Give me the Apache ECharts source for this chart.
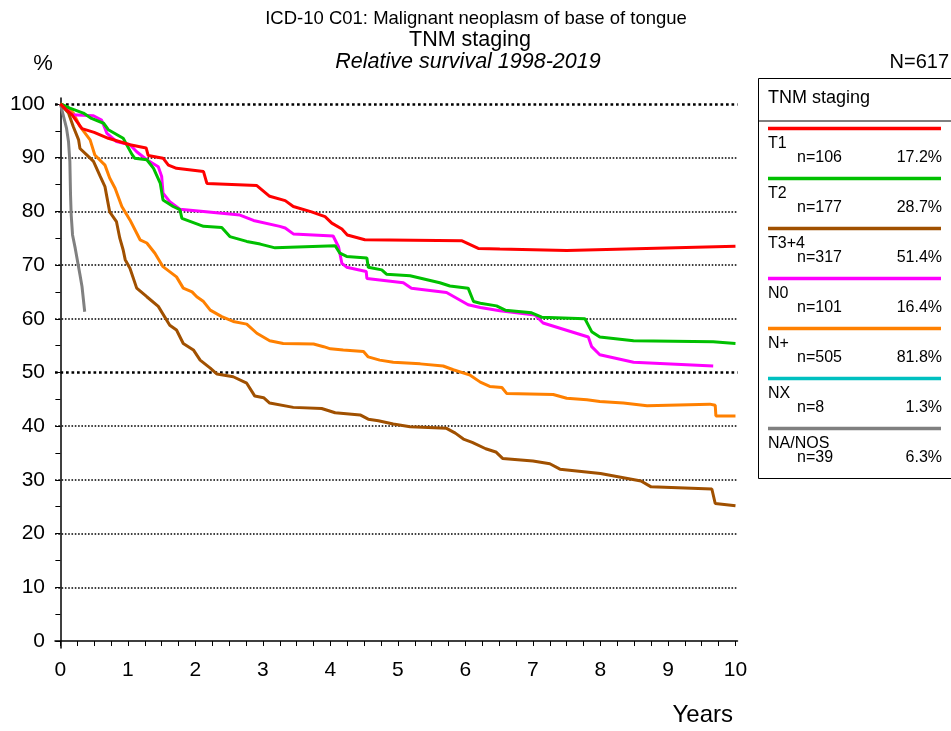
<!DOCTYPE html>
<html>
<head>
<meta charset="utf-8">
<script src="https://cdn.jsdelivr.net/npm/echarts@6/dist/echarts.min.js"></script>
<style>
html,body{margin:0;padding:0;background:#fff;}
#chart{width:951px;height:731px;}
</style>
</head>
<body>
<div id="chart"></div>
<script>
// ---- data (years, relative survival %) ----
const t1Data = [[0,100],[0.08,99.0],[0.17,98.0],[0.25,96.6],[0.32,95.4],[0.5,94.7],[0.71,93.6],[1.03,92.4],[1.27,91.8],[1.30,90.4],[1.52,89.9],[1.6,88.6],[1.72,88.0],[2.12,87.4],[2.17,85.2],[2.91,84.8],[3.1,82.8],[3.33,82.0],[3.45,80.9],[3.72,79.9],[3.92,79.0],[4.02,77.8],[4.17,76.7],[4.25,75.6],[4.51,74.7],[5.95,74.5],[6.19,73.1],[6.51,73.0],[7.5,72.7],[10,73.5]];
const t2Data = [[0,100],[0.14,99.2],[0.34,98.3],[0.46,97.3],[0.64,96.4],[0.71,95.2],[0.93,93.6],[1.06,90.6],[1.1,89.9],[1.28,89.6],[1.38,88.0],[1.48,85.2],[1.52,82.1],[1.67,80.9],[1.77,80.3],[1.8,78.7],[2.12,77.2],[2.39,77.0],[2.51,75.3],[2.76,74.4],[2.96,73.9],[3.18,73.2],[4.07,73.6],[4.14,72.2],[4.24,71.6],[4.54,71.3],[4.56,69.6],[4.76,69.1],[4.83,68.3],[5.18,68.0],[5.62,66.7],[5.77,66.1],[6.04,65.7],[6.12,63.2],[6.22,62.9],[6.46,62.4],[6.59,61.6],[6.98,61.1],[7.13,60.3],[7.77,60.0],[7.87,57.6],[7.99,56.6],[8.49,55.9],[9.67,55.7],[10,55.4]];
const t34Data = [[0,100],[0.12,98.3],[0.19,95.8],[0.27,93.3],[0.29,91.7],[0.39,90.5],[0.49,89.3],[0.59,86.5],[0.66,84.6],[0.73,79.9],[0.83,78.1],[0.88,75.0],[0.93,72.8],[0.96,71.0],[1.03,69.4],[1.13,65.7],[1.28,64.1],[1.45,62.3],[1.62,58.8],[1.72,57.9],[1.82,55.4],[1.97,54.2],[2.07,52.3],[2.22,50.8],[2.32,49.7],[2.56,49.2],[2.76,48.0],[2.88,45.6],[3.01,45.3],[3.1,44.3],[3.45,43.5],[3.87,43.3],[4.07,42.5],[4.44,42.1],[4.56,41.3],[4.71,41.0],[4.93,40.4],[5.18,39.9],[5.72,39.6],[5.85,38.7],[5.97,37.6],[6.1,37.0],[6.3,35.8],[6.45,35.2],[6.55,34.0],[7.0,33.5],[7.25,33.0],[7.4,32.0],[8.0,31.2],[8.3,30.5],[8.6,29.8],[8.75,28.7],[9.65,28.3],[9.7,25.6],[10,25.2]];
const n0Data = [[0,100],[0.17,98.0],[0.49,97.8],[0.61,97.0],[0.69,94.5],[0.83,93.0],[1.03,92.4],[1.13,91.1],[1.28,89.6],[1.45,88.3],[1.5,86.5],[1.52,83.4],[1.62,81.8],[1.77,80.4],[2.66,79.3],[2.86,78.3],[3.25,77.2],[3.33,76.9],[3.45,75.8],[4.04,75.4],[4.12,73.4],[4.17,70.3],[4.24,69.6],[4.53,68.8],[4.54,67.5],[5.08,66.7],[5.2,65.7],[5.72,64.9],[6.04,62.6],[6.22,62.1],[6.51,61.5],[7.03,60.7],[7.15,59.2],[7.82,56.6],[7.87,54.8],[7.99,53.3],[8.49,51.9],[9.67,51.2]];
const nPlusData = [[0,100],[0.1,99.4],[0.19,98.3],[0.29,95.8],[0.44,93.3],[0.51,90.5],[0.66,88.6],[0.73,86.2],[0.81,84.3],[0.91,80.9],[1.03,78.4],[1.18,74.7],[1.28,74.1],[1.4,72.2],[1.52,69.7],[1.72,67.8],[1.82,65.7],[1.95,65.0],[2.02,64.1],[2.12,63.2],[2.22,61.6],[2.39,60.4],[2.56,59.5],[2.76,59.0],[2.91,57.3],[3.1,55.9],[3.3,55.4],[3.75,55.3],[3.9,54.8],[4.0,54.4],[4.19,54.2],[4.49,53.9],[4.56,52.9],[4.73,52.3],[4.93,51.9],[5.33,51.6],[5.67,51.2],[5.82,50.5],[6.07,49.5],[6.22,48.2],[6.36,47.4],[6.54,47.2],[6.61,46.1],[7.3,45.9],[7.5,45.2],[7.8,44.9],[7.99,44.6],[8.34,44.3],[8.69,43.8],[9.62,44.1],[9.7,43.9],[9.71,41.9],[10,41.9]];
const nxData = [];
const naData = [[0,100],[0.04,98.0],[0.09,95.5],[0.12,93.0],[0.14,89.3],[0.15,83.1],[0.16,79.3],[0.18,75.6],[0.22,73.1],[0.29,68.2],[0.32,66.0],[0.36,61.3]];

const groupNames = ['T1','T2','T3+4','N0','N+','NX','NA/NOS'];
const groupN = ['n=106','n=177','n=317','n=101','n=505','n=8','n=39'];
const groupPct = ['17.2%','28.7%','51.4%','16.4%','81.8%','1.3%','6.3%'];
const groupData = [t1Data,t2Data,t34Data,n0Data,nPlusData,nxData,naData];
const groupColors = ['#ff0000','#00c000','#a05000','#ff00ff','#ff8000','#00c0c0','#808080'];

const xLabelValues = [0,1,2,3,4,5,6,7,8,9,10];
const xTickValues = [];
for (let i = 0; i <= 40; i++) xTickValues.push(i * 0.25);
const yLabelValues = [0,10,20,30,40,50,60,70,80,90,100];
const yTickValues = [];
for (let i = 0; i <= 20; i++) yTickValues.push(i * 5);
const gridValues = [10,20,30,40,50,60,70,80,90,100];
const boldGridValues = [50,100];

const FONT = '"Liberation Sans", Arial, sans-serif';

const series = groupData.map((d, i) => ({
  name: groupNames[i],
  type: 'line',
  data: d,
  showSymbol: false,
  symbol: 'none',
  lineStyle: {color: groupColors[i], width: 3},
  itemStyle: {color: groupColors[i]},
  z: 10 - i + 3,
  animation: false
}));
series.push({
  type: 'line', data: [], silent: true, animation: false,
  markLine: {
    silent: true, symbol: 'none', animation: false,
    label: {show: false},
    data: gridValues.map(v => {
      const bold = boldGridValues.indexOf(v) >= 0;
      return {yAxis: v, lineStyle: {color: '#000', width: bold ? 2.5 : 1.5, type: bold ? [2.7, 2.8] : [1.6, 1.7]}};
    })
  },
  z: 1
});

// legend graphics
const graphics = [];
graphics.push({type:'rect', shape:{x:758.5, y:78.5, width:220, height:400}, style:{fill:'#fff', stroke:'#000', lineWidth:1}, z:0});
graphics.push({type:'text', x:768, y:98, style:{text:'TNM staging', font:'18px ' + FONT, fill:'#000', verticalAlign:'middle'}});
graphics.push({type:'line', shape:{x1:758, y1:121, x2:960, y2:121}, style:{stroke:'#000', lineWidth:1}});
groupNames.forEach((nm, i) => {
  const y0 = 128.5 + 50 * i;
  graphics.push({type:'line', shape:{x1:768, y1:y0, x2:941, y2:y0}, style:{stroke:groupColors[i], lineWidth:3.5}});
  graphics.push({type:'text', x:768, y:y0 + 15.5, style:{text:nm, font:'16px ' + FONT, fill:'#000', verticalAlign:'middle'}});
  graphics.push({type:'text', x:797, y:y0 + 29.5, style:{text:groupN[i], font:'16px ' + FONT, fill:'#000', verticalAlign:'middle'}});
  graphics.push({type:'text', x:942, y:y0 + 29.5, style:{text:groupPct[i], font:'16px ' + FONT, fill:'#000', align:'right', verticalAlign:'middle'}});
});
graphics.push({type:'text', x:476, y:19, style:{text:'ICD-10 C01: Malignant neoplasm of base of tongue', font:'18.5px ' + FONT, fill:'#000', align:'center', verticalAlign:'middle'}});
graphics.push({type:'text', x:470, y:40, style:{text:'TNM staging', font:'21.5px ' + FONT, fill:'#000', align:'center', verticalAlign:'middle'}});
graphics.push({type:'text', x:468, y:62, style:{text:'Relative survival 1998-2019', font:'italic 21.5px ' + FONT, fill:'#000', align:'center', verticalAlign:'middle'}});
graphics.push({type:'text', x:43, y:64, style:{text:'%', font:'22px ' + FONT, fill:'#000', align:'center', verticalAlign:'middle'}});
graphics.push({type:'text', x:949, y:62, style:{text:'N=617', font:'20px ' + FONT, fill:'#000', align:'right', verticalAlign:'middle'}});
graphics.push({type:'text', x:733, y:715, style:{text:'Years', font:'24px ' + FONT, fill:'#000', align:'right', verticalAlign:'middle'}});

const chart = echarts.init(document.getElementById('chart'), null, {renderer:'canvas'});
chart.setOption({
  animation: false,
  backgroundColor: '#fff',
  grid: {left: 55, right: 213.5, top: 98, bottom: 83, containLabel: false},
  xAxis: {
    type: 'value', min: -0.08, max: 10.03,
    axisLine: {show: true, lineStyle: {color: '#000', width: 1.5}},
    axisTick: {show: true, length: 5, customValues: xTickValues, lineStyle: {color: '#000', width: 1}},
    axisLabel: {customValues: xLabelValues, color: '#000', fontSize: 21, fontFamily: FONT, margin: 12},
    splitLine: {show: false}
  },
  yAxis: {
    type: 'value', min: -1.3, max: 101.1,
    axisLine: {show: true, lineStyle: {color: '#000', width: 1.5}},
    axisTick: {show: true, length: 5, customValues: yTickValues, lineStyle: {color: '#000', width: 1}},
    axisLabel: {customValues: yLabelValues, color: '#000', fontSize: 21, fontFamily: FONT, margin: 10},
    splitLine: {show: false}
  },
  series: series,
  graphic: graphics
});
</script>
</body>
</html>
